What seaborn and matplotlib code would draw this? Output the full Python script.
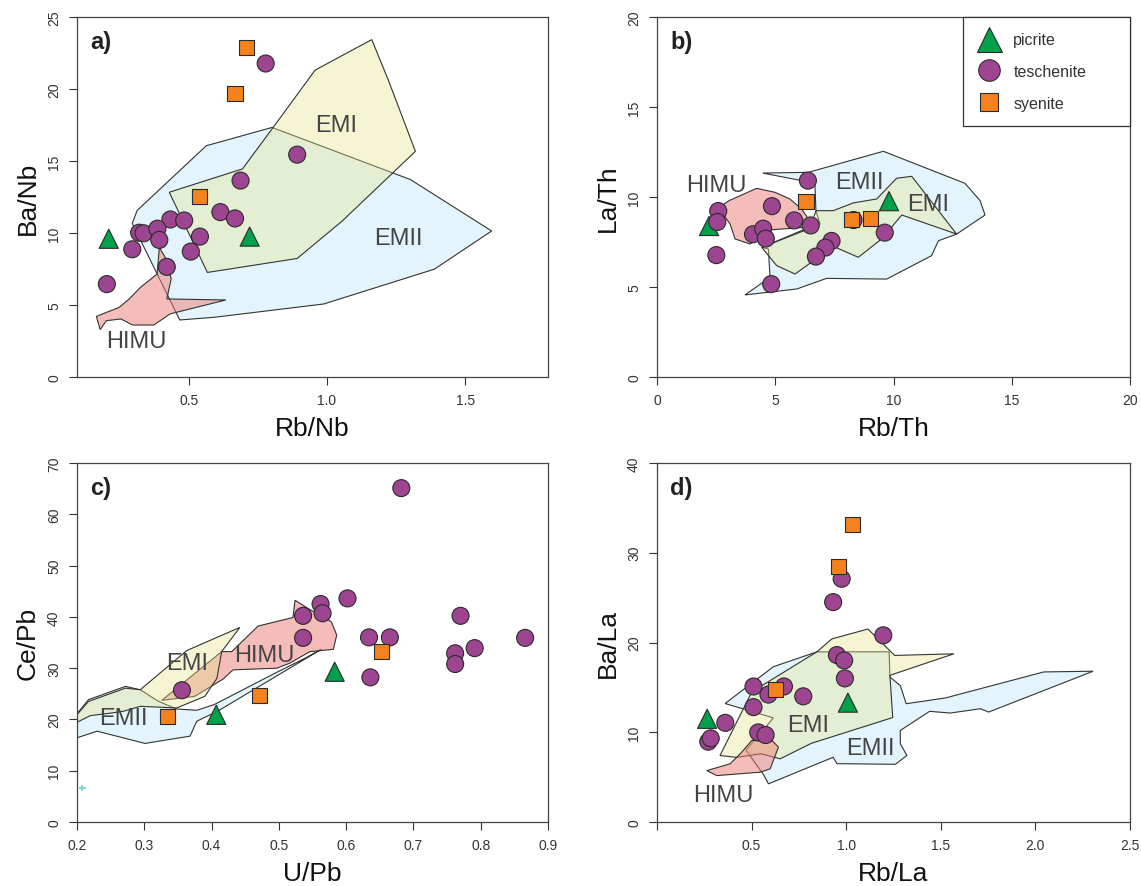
import matplotlib
matplotlib.use("Agg")
import matplotlib.pyplot as plt
import seaborn as sns
import pandas as pd
from matplotlib.lines import Line2D

sns.set_theme(style="ticks")
plt.rcParams['font.family'] = ['Liberation Sans', 'DejaVu Sans']

# ---------------- rock groups ----------------
ROCKS = ["picrite", "teschenite", "syenite"]
ROCK_COLORS = {"picrite": "#00A14B", "teschenite": "#9E4591", "syenite": "#F4821F"}
ROCK_MARKERS = {"picrite": "^", "teschenite": "o", "syenite": "s"}
ROCK_SIZES = {"picrite": 190, "teschenite": 150, "syenite": 118}

# ---------------- panel a: Rb/Nb vs Ba/Nb ----------------
A_PIC_X = [0.21, 0.72]
A_PIC_Y = [9.6, 9.75]
A_TES_X = [0.778, 0.892, 0.687, 0.614, 0.667, 0.433, 0.483, 0.540, 0.507, 0.320,
           0.336, 0.386, 0.393, 0.295, 0.420, 0.203]
A_TES_Y = [21.77, 15.44, 13.64, 11.45, 11.01, 10.94, 10.87, 9.75, 8.71, 10.02,
           9.98, 10.30, 9.52, 8.87, 7.65, 6.45]
A_SYE_X = [0.707, 0.667, 0.537]
A_SYE_Y = [22.86, 19.7, 12.56]

A_EMII_X = [0.313, 0.563, 0.801, 1.302, 1.596, 1.389, 0.988, 0.594, 0.467, 0.295]
A_EMII_Y = [11.57, 16.06, 17.33, 13.71, 10.14, 7.49, 5.07, 4.15, 3.96, 10.67]
A_EMI_X = [0.429, 0.694, 0.803, 0.957, 1.162, 1.222, 1.320, 1.055, 0.892, 0.567]
A_EMI_Y = [12.83, 14.45, 17.28, 21.31, 23.43, 20.62, 15.67, 10.83, 8.23, 7.26]
A_HIMU_X = [0.393, 0.385, 0.325, 0.284, 0.248, 0.165, 0.179, 0.201, 0.254, 0.296,
            0.373, 0.432, 0.634, 0.420, 0.436, 0.414]
A_HIMU_Y = [9.00, 7.15, 6.23, 5.42, 4.84, 4.21, 3.29, 3.91, 4.03, 3.61,
            3.61, 4.38, 5.35, 5.42, 6.81, 8.31]
A_LABEL_POS = {"EMI": (1.032, 17.5), "EMII": (1.258, 9.68), "HIMU": (0.31, 2.53)}

# ---------------- panel b: Rb/Th vs La/Th ----------------
B_PIC_X = [2.20, 9.81]
B_PIC_Y = [8.39, 9.77]
B_TES_X = [6.38, 2.59, 2.55, 4.86, 5.80, 6.50, 4.06, 4.49, 4.60, 8.31,
           9.63, 7.38, 7.12, 6.72, 2.51, 4.83]
B_TES_Y = [10.91, 9.22, 8.61, 9.49, 8.70, 8.42, 7.93, 8.24, 7.69, 8.72,
           8.02, 7.56, 7.19, 6.69, 6.77, 5.16]
B_SYE_X = [6.30, 8.24, 9.01]
B_SYE_Y = [9.77, 8.76, 8.81]

B_EMII_X = [4.47, 6.40, 9.57, 13.02, 13.66, 13.87, 12.67, 11.90, 11.61, 9.71, 7.17,
            5.91, 3.72, 4.78, 4.71, 4.43, 6.54, 6.89, 6.72, 6.68, 6.12]
B_EMII_Y = [11.33, 11.37, 12.54, 10.76, 9.80, 9.00, 7.94, 7.57, 6.74, 5.44, 5.48,
            4.89, 4.56, 5.54, 7.11, 7.20, 8.37, 8.50, 9.24, 10.63, 10.91]
B_EMI_X = [4.43, 6.47, 6.72, 7.45, 8.30, 9.29, 10.13, 10.77, 12.67, 10.35, 9.50,
           8.51, 7.45, 5.84, 5.06]
B_EMI_Y = [7.20, 8.26, 9.24, 9.24, 9.67, 9.89, 11.04, 11.15, 7.94, 9.00, 7.67,
           6.65, 7.26, 5.72, 6.19]
B_HIMU_X = [2.60, 3.05, 4.21, 4.99, 5.62, 6.12, 6.40, 6.30, 4.85, 3.93, 3.30, 3.09]
B_HIMU_Y = [9.40, 9.80, 10.48, 10.26, 9.89, 9.33, 8.78, 8.32, 8.18, 7.39, 7.67, 8.50]
B_LABEL_POS = {"EMI": (11.46, 9.59), "EMII": (8.55, 10.82), "HIMU": (2.51, 10.69)}

# ---------------- panel c: U/Pb vs Ce/Pb ----------------
C_PIC_X = [0.407, 0.583]
C_PIC_Y = [20.9, 29.3]
C_TES_X = [0.682, 0.602, 0.562, 0.565, 0.536, 0.536, 0.634, 0.665, 0.636, 0.770,
           0.762, 0.762, 0.791, 0.866, 0.356]
C_TES_Y = [65.1, 43.6, 42.5, 40.7, 40.2, 35.9, 36.0, 36.0, 28.2, 40.2,
           32.9, 30.8, 33.9, 35.9, 25.7]
C_SYE_X = [0.335, 0.471, 0.652]
C_SYE_Y = [20.6, 24.6, 33.3]
C_MISC_X = [0.208]
C_MISC_Y = [6.6]

C_EMII_X = [0.200, 0.217, 0.272, 0.294, 0.321, 0.348, 0.378, 0.404, 0.500, 0.540,
            0.563, 0.409, 0.378, 0.368, 0.301, 0.230, 0.200]
C_EMII_Y = [21.1, 23.85, 26.44, 25.79, 23.53, 22.04, 21.78, 22.9, 29.4, 32.0,
            33.67, 21.6, 19.65, 16.74, 15.32, 17.71, 16.42]
C_EMI_X = [0.200, 0.217, 0.272, 0.294, 0.363, 0.442, 0.415, 0.408, 0.390, 0.348,
           0.294, 0.269, 0.244, 0.220, 0.200]
C_EMI_Y = [20.94, 23.5, 26.1, 25.79, 33.42, 37.94, 33.22, 28.05, 24.5, 22.23,
           22.56, 21.59, 21.13, 20.75, 19.45]
C_HIMU_X = [0.326, 0.415, 0.430, 0.469, 0.521, 0.524, 0.546, 0.578, 0.586, 0.581,
            0.546, 0.516, 0.497, 0.432, 0.417, 0.375]
C_HIMU_Y = [23.72, 33.22, 33.22, 38.2, 39.88, 43.24, 41.43, 39.04, 36.45, 33.67,
            33.22, 30.96, 29.99, 29.67, 27.86, 24.5]
C_LABEL_POS = {"EMI": (0.364, 31.0), "EMII": (0.269, 20.3), "HIMU": (0.478, 32.5)}

# ---------------- panel d: Rb/La vs Ba/La ----------------
D_PIC_X = [0.265, 1.009]
D_PIC_Y = [11.5, 13.3]
D_TES_X = [0.976, 0.931, 1.196, 0.951, 0.989, 0.993, 0.510, 0.671, 0.589, 0.773,
           0.510, 0.361, 0.535, 0.574, 0.271, 0.284]
D_TES_Y = [27.1, 24.5, 20.8, 18.6, 18.0, 16.0, 15.1, 15.1, 14.2, 14.0,
           12.8, 11.05, 9.98, 9.69, 8.95, 9.32]
D_SYE_X = [1.034, 0.957, 0.628]
D_SYE_Y = [33.1, 28.5, 14.75]

D_EMII_X = [0.360, 0.615, 0.845, 1.227, 1.231, 1.286, 1.317, 1.524, 2.044, 2.305,
            1.753, 1.709, 1.550, 1.441, 1.286, 1.286, 1.321, 1.260, 0.951, 0.931,
            0.589, 0.564, 0.470, 0.615]
D_EMII_Y = [13.2, 17.3, 18.96, 18.96, 16.15, 15.2, 13.18, 13.82, 16.72, 16.80,
            12.25, 12.62, 12.14, 12.33, 10.2, 8.72, 7.41, 6.43, 6.5, 7.21,
            4.25, 5.25, 8.0, 11.6]
D_EMI_X = [0.333, 0.501, 0.845, 0.924, 1.115, 1.256, 1.569, 1.231, 1.246, 0.815,
           0.651, 0.55, 0.42]
D_EMI_Y = [7.41, 14.5, 18.96, 20.4, 21.5, 18.56, 18.74, 16.34, 11.64, 8.76,
           7.04, 7.6, 7.2]
D_HIMU_X = [0.263, 0.316, 0.545, 0.598, 0.642, 0.608, 0.501, 0.44, 0.386]
D_HIMU_Y = [5.73, 5.17, 5.55, 5.92, 8.35, 9.08, 9.08, 7.6, 6.48]
D_LABEL_POS = {"EMI": (0.80, 10.8), "EMII": (1.13, 8.2), "HIMU": (0.348, 3.0)}

# ---------------- fields ----------------
FIELD_FILL = {"EMII": (228/255, 244/255, 252/255, 1.0),
              "HIMU": (237/255, 125/255, 117/255, 0.5),
              "EMI": (228/255, 228/255, 139/255, 0.37)}
EDGE = "#333333"
TEXT_GREY = "#444444"


def draw_fields(ax, fields, label_pos, order=("EMII", "HIMU", "EMI")):
    for name in order:
        xs, ys = fields[name]
        ax.fill(xs, ys, facecolor=FIELD_FILL[name], edgecolor=EDGE,
                linewidth=0.8, zorder=1)
    for name, (tx, ty) in label_pos.items():
        ax.text(tx, ty, name, fontsize=17, color=TEXT_GREY, ha="center",
                va="center", zorder=2)


def draw_points(ax, pic, tes, sye):
    df = pd.DataFrame({
        "x": list(pic[0]) + list(tes[0]) + list(sye[0]),
        "y": list(pic[1]) + list(tes[1]) + list(sye[1]),
        "rock": ["picrite"] * len(pic[0]) + ["teschenite"] * len(tes[0])
                + ["syenite"] * len(sye[0]),
    })
    sns.scatterplot(data=df, x="x", y="y", hue="rock", style="rock", size="rock",
                    hue_order=ROCKS, style_order=ROCKS, size_order=ROCKS,
                    palette=ROCK_COLORS, markers=ROCK_MARKERS, sizes=ROCK_SIZES,
                    edgecolor="#2b2b2b", linewidth=0.8, legend=False, ax=ax,
                    zorder=3)


def style_axes(ax, xlim, ylim, xticks, xticklabels, yticks, xlabel, ylabel, letter):
    ax.set_xlim(*xlim)
    ax.set_ylim(*ylim)
    ax.set_xticks(xticks)
    ax.set_xticklabels(xticklabels)
    ax.set_yticks(yticks)
    ax.set_yticklabels([str(t) for t in yticks], rotation=90, va="center")
    ax.tick_params(direction="out", length=5.5, width=0.8, color="#333333",
                   labelsize=10, labelcolor="#333333", pad=6,
                   bottom=True, left=True, top=False, right=False)
    for sp in ax.spines.values():
        sp.set_visible(True)
        sp.set_color("#444444")
        sp.set_linewidth(0.9)
    ax.set_xlabel(xlabel, fontsize=19, color="#111111")
    ax.set_ylabel(ylabel, fontsize=19, color="#111111")
    ax.xaxis.set_label_coords(0.5, -0.108)
    ax.yaxis.set_label_coords(-0.079, 0.5)
    ax.text(0.028, 0.933, letter, transform=ax.transAxes, fontsize=17,
            fontweight="bold", ha="left", va="center", color="#222222")


fig = plt.figure(figsize=(11.41, 8.87), dpi=100)
W, H = 1141.0, 887.0
ax_a = fig.add_axes([77 / W, 1 - 378 / H, 471 / W, 360 / H])
ax_b = fig.add_axes([657 / W, 1 - 378 / H, 473 / W, 360 / H])
ax_c = fig.add_axes([77 / W, 1 - 823 / H, 471 / W, 359 / H])
ax_d = fig.add_axes([657 / W, 1 - 823 / H, 473 / W, 359 / H])

# a)
draw_fields(ax_a, {"EMII": (A_EMII_X, A_EMII_Y), "HIMU": (A_HIMU_X, A_HIMU_Y),
                   "EMI": (A_EMI_X, A_EMI_Y)}, A_LABEL_POS)
draw_points(ax_a, (A_PIC_X, A_PIC_Y), (A_TES_X, A_TES_Y), (A_SYE_X, A_SYE_Y))
style_axes(ax_a, (0.095, 1.8), (0, 25), [0.5, 1.0, 1.5], ["0.5", "1.0", "1.5"],
           [0, 5, 10, 15, 20, 25], "Rb/Nb", "Ba/Nb", "a)")

# b)
draw_fields(ax_b, {"EMII": (B_EMII_X, B_EMII_Y), "HIMU": (B_HIMU_X, B_HIMU_Y),
                   "EMI": (B_EMI_X, B_EMI_Y)}, B_LABEL_POS)
draw_points(ax_b, (B_PIC_X, B_PIC_Y), (B_TES_X, B_TES_Y), (B_SYE_X, B_SYE_Y))
style_axes(ax_b, (0, 20), (0, 20), [0, 5, 10, 15, 20], ["0", "5", "10", "15", "20"],
           [0, 5, 10, 15, 20], "Rb/Th", "La/Th", "b)")

handles = [Line2D([], [], linestyle="", marker=ROCK_MARKERS[r],
                  markerfacecolor=ROCK_COLORS[r], markeredgecolor="#2b2b2b",
                  markeredgewidth=0.8,
                  markersize={"picrite": 18, "teschenite": 15.5, "syenite": 13.5}[r])
           for r in ROCKS]
leg = ax_b.legend(handles, ROCKS, loc="upper left", bbox_to_anchor=(0.647, 0, 0.353, 1.0),
                  mode="expand", borderaxespad=0, fancybox=False, framealpha=1,
                  edgecolor="#333333", fontsize=11.5, handlelength=1.4,
                  handletextpad=0.8, labelspacing=1.05, borderpad=0.95)
leg.get_frame().set_linewidth(0.9)
for t in leg.get_texts():
    t.set_color("#333333")

# c)
draw_fields(ax_c, {"EMII": (C_EMII_X, C_EMII_Y), "HIMU": (C_HIMU_X, C_HIMU_Y),
                   "EMI": (C_EMI_X, C_EMI_Y)}, C_LABEL_POS)
draw_points(ax_c, (C_PIC_X, C_PIC_Y), (C_TES_X, C_TES_Y), (C_SYE_X, C_SYE_Y))
sns.scatterplot(x=C_MISC_X, y=C_MISC_Y, marker="P", s=22, color="#7FD3D3",
                edgecolor="none", legend=False, ax=ax_c, zorder=3)
style_axes(ax_c, (0.2, 0.9), (0, 70), [0.2, 0.3, 0.4, 0.5, 0.6, 0.7, 0.8, 0.9],
           ["0.2", "0.3", "0.4", "0.5", "0.6", "0.7", "0.8", "0.9"],
           [0, 10, 20, 30, 40, 50, 60, 70], "U/Pb", "Ce/Pb", "c)")

# d) -- HIMU field laid over EMI here
draw_fields(ax_d, {"EMII": (D_EMII_X, D_EMII_Y), "HIMU": (D_HIMU_X, D_HIMU_Y),
                   "EMI": (D_EMI_X, D_EMI_Y)}, D_LABEL_POS,
            order=("EMII", "EMI", "HIMU"))
draw_points(ax_d, (D_PIC_X, D_PIC_Y), (D_TES_X, D_TES_Y), (D_SYE_X, D_SYE_Y))
style_axes(ax_d, (0, 2.5), (0, 40), [0, 0.5, 1.0, 1.5, 2.0, 2.5],
           ["", "0.5", "1.0", "1.5", "2.0", "2.5"],
           [0, 10, 20, 30, 40], "Rb/La", "Ba/La", "d)")

fig.savefig("out.png", dpi=100)
